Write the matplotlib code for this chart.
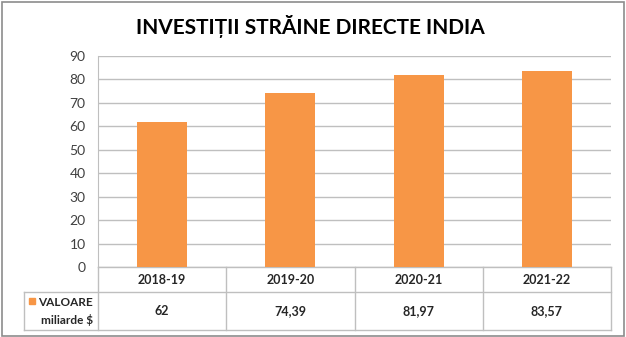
import matplotlib
matplotlib.use("Agg")
import matplotlib.pyplot as plt
from matplotlib import transforms
from matplotlib.patches import Rectangle

plt.rcParams['font.family'] = ['Lato', 'DejaVu Sans']

title = "INVESTIȚII STRĂINE DIRECTE INDIA"
years = ["2018-19", "2019-20", "2020-21", "2021-22"]
values = [62, 74.39, 81.97, 83.57]
value_labels = ["62", "74,39", "81,97", "83,57"]
series_name = ["VALOARE", "miliarde $"]
yticks = list(range(0, 100, 10))

W, H = 626, 337
orange = "#F79646"
grid_c = "#BFBFBF"

fig = plt.figure(figsize=(W / 100, H / 100), dpi=100)

# plot area in pixels: x 98..611, y 56..267
x0, x1, y_top, y_bot = 98, 611, 56, 267
ax = fig.add_axes([x0 / W, 1 - y_bot / H, (x1 - x0) / W, (y_bot - y_top) / H])

xs = range(len(years))
ax.bar(xs, values, width=0.39, color=orange, zorder=3)
ax.set_xlim(-0.5, len(years) - 0.5)
ax.set_ylim(0, 90)
ax.set_yticks(yticks)
ax.set_yticklabels([str(t) for t in yticks], fontsize=10, color="#404040")
ax.tick_params(axis='y', length=0, pad=9)
ax.set_xticks([])
ax.yaxis.grid(True, color=grid_c, linewidth=1, zorder=0)
for s in ["top", "right", "bottom"]:
    ax.spines[s].set_visible(False)
ax.spines["left"].set_color(grid_c)

# data table under the axis
tr = transforms.blended_transform_factory(ax.transData, ax.transAxes)
ph = y_bot - y_top
row1 = -(292 - y_bot) / ph
row2 = -(330 - y_bot) / ph
leg_x = -(x0 - 24) / (x1 - x0)

line_kw = dict(color=grid_c, linewidth=1, clip_on=False)
ax.plot([-0.5, len(years) - 0.5], [0, 0], transform=tr, **line_kw)
ax.plot([leg_x, 1], [row1, row1], transform=ax.transAxes, **line_kw)
ax.plot([leg_x, 1], [row2, row2], transform=ax.transAxes, **line_kw)
ax.plot([leg_x, leg_x], [row1, row2], transform=ax.transAxes, **line_kw)
for i in range(len(years) + 1):
    ax.plot([i - 0.5, i - 0.5], [0, row2], transform=tr, **line_kw)

for i, (yr, lab) in enumerate(zip(years, value_labels)):
    ax.text(i, row1 / 2, yr, transform=tr, ha='center', va='center',
            fontsize=9, fontweight='bold', color="#262626")
    ax.text(i, (row1 + row2) / 2, lab, transform=tr, ha='center', va='center',
            fontsize=9, fontweight='bold', color="#262626")

# legend key in table
fig.patches.append(Rectangle((29 / W, 1 - 304 / H), 6 / W, 6 / H,
                             transform=fig.transFigure, color=orange))
fig.text(93 / W, 1 - 302 / H, series_name[0], ha='right', va='center',
         fontsize=8.5, fontweight='bold', color="#262626")
fig.text(93 / W, 1 - 320 / H, series_name[1], ha='right', va='center',
         fontsize=8.5, fontweight='bold', color="#262626")

fig.text(310 / W, 1 - 27 / H, title, ha='center', va='center',
         fontsize=15, fontweight='bold', color="black")

# outer chart border
fig.patches.append(Rectangle((2 / W, 1.5 / H), (W - 4) / W, (H - 3.5) / H,
                             transform=fig.transFigure, fill=False,
                             edgecolor="#8C8C8C", linewidth=1.2))

fig.savefig("out.png", dpi=100)
